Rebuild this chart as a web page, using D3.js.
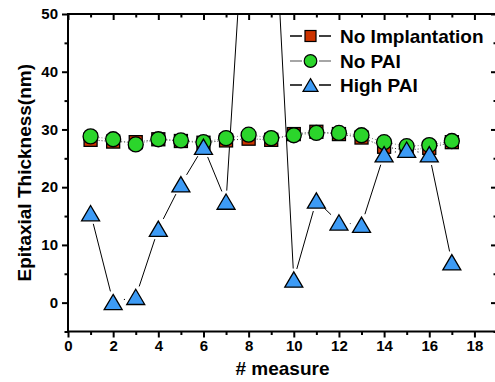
<!DOCTYPE html>
<html><head><meta charset="utf-8">
<script src="https://cdn.jsdelivr.net/npm/d3@7"></script>
<style>body{margin:0;background:#fff}svg{display:block}</style>
</head><body>
<svg id="c" width="495" height="382"></svg>
<script>
const measures = [1,2,3,4,5,6,7,8,9,10,11,12,13,14,15,16,17];
const noImplantation = [28.2,27.9,27.8,28.3,28.0,27.7,28.1,28.4,28.2,29.2,29.6,29.2,28.6,27.0,26.4,26.8,27.8];
const noPAI = [28.8,28.3,27.4,28.3,28.1,27.8,28.5,29.1,28.5,29.0,29.4,29.4,29.0,27.8,27.1,27.3,28.0];
const highPAI = [15.5,0.1,1.0,12.8,20.5,27.0,17.5,80,79,4.0,17.7,13.9,13.5,25.7,26.5,25.7,7.0];
const xTicks = [0,2,4,6,8,10,12,14,16,18];
const yTicks = [0,10,20,30,40,50];
const seriesNames = ["No Implantation","No PAI","High PAI"];

const svg = d3.select("#c");
const L = 68, R = 497, T = 14, B = 331.5;
const x = d3.scaleLinear().domain([0,19]).range([L,R]);
const y = d3.scaleLinear().domain([-5,50]).range([B,T]);
const font = "'Liberation Sans', Arial, sans-serif";

svg.append("defs").append("clipPath").attr("id","pc")
  .append("rect").attr("x",L).attr("y",T).attr("width",R-L).attr("height",B-T);

// gapped segments
function gapped(g, xs, ys, gap, stroke, dash, width){
  const pts = xs.map((d,i)=>[x(d), y(ys[i])]);
  for(let i=0;i<pts.length-1;i++){
    const [x0,y0]=pts[i],[x1,y1]=pts[i+1];
    const len=Math.hypot(x1-x0,y1-y0);
    if(len<=2*gap) continue;
    const ux=(x1-x0)/len, uy=(y1-y0)/len;
    g.append("line").attr("x1",x0+ux*gap).attr("y1",y0+uy*gap)
     .attr("x2",x1-ux*gap).attr("y2",y1-uy*gap)
     .attr("stroke",stroke).attr("stroke-width",width)
     .attr("stroke-dasharray",dash||null);
  }
}
const lines = svg.append("g").attr("clip-path","url(#pc)");
gapped(lines, measures, noImplantation, 8, "#333", "1,2", 1);
gapped(lines, measures, noPAI, 8, "#888", "1,2", 1);
gapped(lines, measures, highPAI, 11, "#000", null, 1);

const sq = d3.symbol().type(d3.symbolSquare).size(169);
const tri = (s)=>{const w=s, h=s*0.85; return `M0,${-h/2}L${w/2},${h/2}L${-w/2},${h/2}Z`;};

const marks = svg.append("g").attr("clip-path","url(#pc)");
marks.selectAll(".sq").data(measures).join("rect")
  .attr("x",(d)=>x(d)-6.5).attr("y",(d,i)=>y(noImplantation[i])-6.5)
  .attr("width",13).attr("height",13).attr("fill","#cc3300").attr("stroke","#000").attr("stroke-width",1.3);
marks.selectAll(".ci").data(measures).join("circle")
  .attr("cx",(d)=>x(d)).attr("cy",(d,i)=>y(noPAI[i])).attr("r",7.5)
  .attr("fill","#2bd52b").attr("stroke","#000").attr("stroke-width",1.3);
marks.selectAll(".tr").data(measures).join("path")
  .attr("d",tri(18)).attr("transform",(d,i)=>`translate(${x(d)},${y(highPAI[i])})`)
  .attr("fill","#3d9bf5").attr("stroke","#000").attr("stroke-width",1.3);

// axes
function styleAxis(g){
  g.select(".domain").remove();
  g.selectAll("line").attr("stroke","#000").attr("stroke-width",2);
  g.selectAll("text").attr("font-family",font).attr("font-weight","bold").attr("font-size","15px").attr("fill","#000");
}
const xMinor = d3.range(1,19,2), yMinor = d3.range(-5,50,10);
// bottom
svg.append("g").attr("transform",`translate(0,${B})`)
  .call(d3.axisBottom(x).tickValues(xTicks).tickFormat(d3.format("d")).tickSize(6).tickPadding(3)).call(styleAxis);
svg.append("g").attr("transform",`translate(0,${B})`)
  .call(d3.axisBottom(x).tickValues(xMinor).tickFormat("").tickSize(3.5)).call(styleAxis);
// top (inward)
svg.append("g").attr("transform",`translate(0,${T})`)
  .call(d3.axisBottom(x).tickValues(xTicks).tickFormat("").tickSize(6)).call(styleAxis);
svg.append("g").attr("transform",`translate(0,${T})`)
  .call(d3.axisBottom(x).tickValues(xMinor).tickFormat("").tickSize(3.5)).call(styleAxis);
// left
svg.append("g").attr("transform",`translate(${L},0)`)
  .call(d3.axisLeft(y).tickValues(yTicks).tickFormat(d3.format("d")).tickSize(6).tickPadding(4)).call(styleAxis);
svg.append("g").attr("transform",`translate(${L},0)`)
  .call(d3.axisLeft(y).tickValues(yMinor).tickFormat("").tickSize(3.5)).call(styleAxis);
// right (inward)
svg.append("g").attr("transform",`translate(${R},0)`)
  .call(d3.axisLeft(y).tickValues(yTicks).tickFormat("").tickSize(6)).call(styleAxis);
svg.append("g").attr("transform",`translate(${R},0)`)
  .call(d3.axisLeft(y).tickValues(yMinor).tickFormat("").tickSize(3.5)).call(styleAxis);
// frame
svg.append("rect").attr("x",L).attr("y",T).attr("width",R-L).attr("height",B-T)
  .attr("fill","none").attr("stroke","#000").attr("stroke-width",2);

// titles
svg.append("text").attr("x",(L+R)/2).attr("y",375).attr("text-anchor","middle")
  .attr("font-family",font).attr("font-weight","bold").attr("font-size","19px").text("# measure");
svg.append("text").attr("transform",`translate(31,${(T+B)/2}) rotate(-90)`).attr("text-anchor","middle")
  .attr("font-family",font).attr("font-weight","bold").attr("font-size","19px").text("Epitaxial Thickness(nm)");

// legend
const lg = svg.append("g");
const rowsY = [36, 61, 85];
rowsY.forEach((ry,i)=>{
  const lc = i===1 ? "#888" : "#000";
  lg.append("line").attr("x1",290).attr("x2",302).attr("y1",ry).attr("y2",ry).attr("stroke",lc).attr("stroke-width",1.5);
  lg.append("line").attr("x1",319).attr("x2",331).attr("y1",ry).attr("y2",ry).attr("stroke",lc).attr("stroke-width",1.5);
  if(i===0) lg.append("rect").attr("x",305).attr("y",ry-5.5).attr("width",11).attr("height",11)
      .attr("fill","#cc3300").attr("stroke","#000").attr("stroke-width",1.2);
  if(i===1) lg.append("circle").attr("cx",310.5).attr("cy",ry).attr("r",6.3)
      .attr("fill","#2bd52b").attr("stroke","#000").attr("stroke-width",1.2);
  if(i===2) lg.append("path").attr("d",tri(15)).attr("transform",`translate(310.5,${ry})`)
      .attr("fill","#3d9bf5").attr("stroke","#000").attr("stroke-width",1.2);
  lg.append("text").attr("x",340).attr("y",ry).attr("dy","0.36em")
    .attr("font-family",font).attr("font-weight","bold").attr("font-size","19px").text(seriesNames[i]);
});
</script>
</body></html>
